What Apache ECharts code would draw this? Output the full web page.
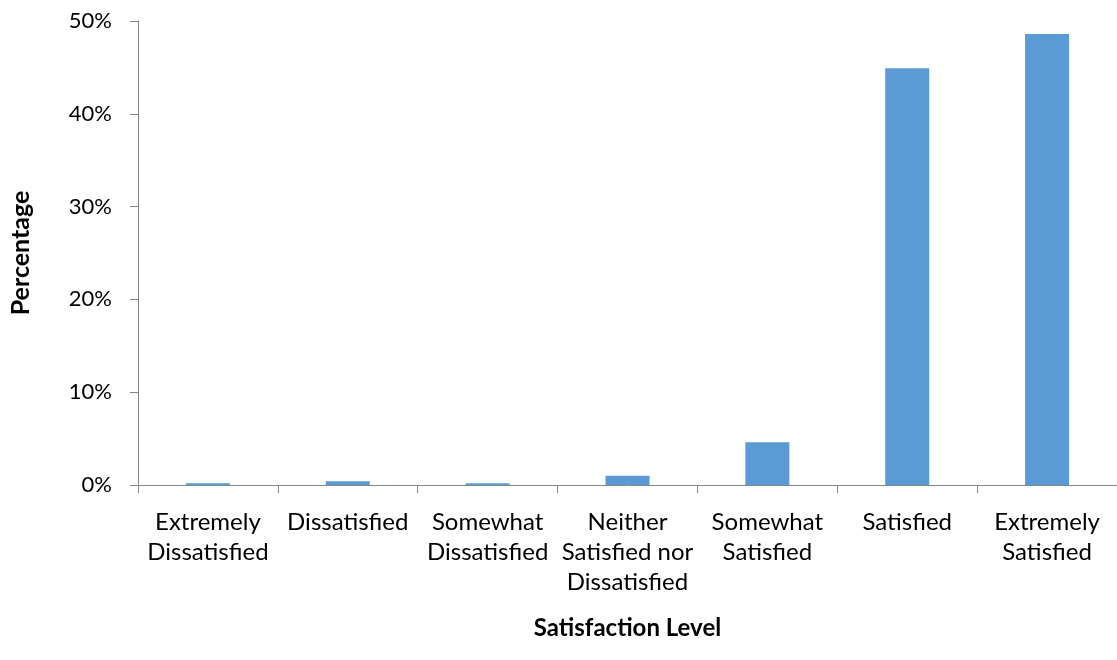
<!DOCTYPE html>
<html>
<head>
<meta charset="utf-8">
<script src="https://cdn.jsdelivr.net/npm/echarts@6/dist/echarts.min.js"></script>
<style>
  html, body { margin: 0; padding: 0; background: #fff; }
  #chart { width: 1117px; height: 660px; }
</style>
</head>
<body>
<div id="chart"></div>
<script>
// Satisfaction survey: share of respondents per level
const categories = [
  'Extremely\nDissatisfied',
  'Dissatisfied',
  'Somewhat\nDissatisfied',
  'Neither\nSatisfied nor\nDissatisfied',
  'Somewhat\nSatisfied',
  'Satisfied',
  'Extremely\nSatisfied'
];
const percentages = [0.2, 0.4, 0.2, 1.0, 4.6, 44.9, 48.6];
const yTicks = [0, 10, 20, 30, 40, 50];

const font = 'Lato, "Open Sans", sans-serif';
const axisGrey = '#868686';

const chart = echarts.init(document.getElementById('chart'), null, { renderer: 'canvas' });
chart.setOption({
  animation: false,
  backgroundColor: '#ffffff',
  // plot area runs slightly past the right edge of the canvas
  grid: { left: 137, top: 21, right: -7, bottom: 175, containLabel: false },
  xAxis: {
    type: 'category',
    data: categories,
    name: 'Satisfaction Level',
    nameLocation: 'middle',
    nameGap: 131,
    nameTextStyle: { fontFamily: font, fontSize: 24, fontWeight: 'bold', color: '#000' },
    axisLine: { lineStyle: { color: axisGrey, width: 1 } },
    axisTick: { show: true, length: 8, lineStyle: { color: axisGrey } },
    axisLabel: {
      interval: 0,
      margin: 22,
      fontFamily: font,
      fontSize: 24,
      lineHeight: 30,
      color: '#000',
      align: 'center'
    }
  },
  yAxis: {
    type: 'value',
    min: yTicks[0],
    max: yTicks[yTicks.length - 1],
    interval: 10,
    name: 'Percentage',
    nameLocation: 'middle',
    nameGap: 105,
    nameRotate: 90,
    nameTextStyle: { fontFamily: font, fontSize: 25, fontWeight: 'bold', color: '#000' },
    axisLine: { show: true, lineStyle: { color: axisGrey, width: 1 } },
    axisTick: { show: true, length: 8, lineStyle: { color: axisGrey } },
    splitLine: { show: false },
    axisLabel: {
      margin: 26,
      fontFamily: font,
      fontSize: 22,
      color: '#000',
      formatter: v => v + '%'
    }
  },
  series: [{
    type: 'bar',
    data: percentages,
    barWidth: 44,
    itemStyle: { color: '#5B9BD5' }
  }]
});
</script>
</body>
</html>
